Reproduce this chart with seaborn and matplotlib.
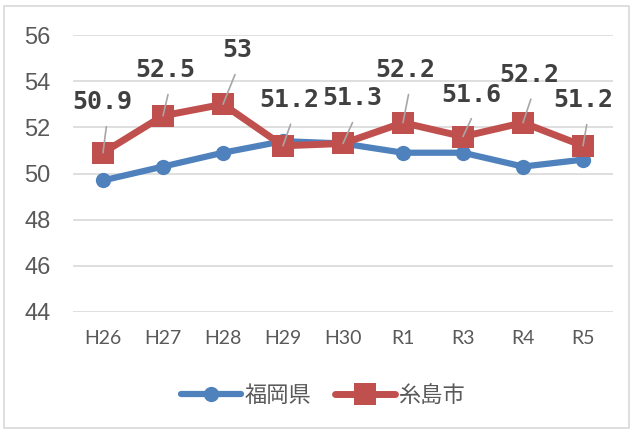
import pandas as pd
import seaborn as sns
import matplotlib
import matplotlib.pyplot as plt
from matplotlib.patches import Rectangle

matplotlib.use('Agg')

# data
years = ['H26', 'H27', 'H28', 'H29', 'H30', 'R1', 'R3', 'R4', 'R5']
fukuoka = [49.7, 50.3, 50.9, 51.4, 51.3, 50.9, 50.9, 50.3, 50.6]
itoshima = [50.9, 52.5, 53, 51.2, 51.3, 52.2, 51.6, 52.2, 51.2]
itoshima_labels = ['50.9', '52.5', '53', '51.2', '51.3', '52.2', '51.6', '52.2', '51.2']

# label offsets in pixels (dx, dy) from each red point
label_offsets = [(-1, 51), (2, 46), (14, 54), (6, 46), (9, 45), (2, 53), (8, 42), (6, 48), (0, 46)]

blue = '#4F81BD'
red = '#C0504D'

sns.set_style('white')
plt.rcParams['font.family'] = ['Noto Sans CJK JP', 'DejaVu Sans']

df = pd.DataFrame({'year': years, '福岡県': fukuoka, '糸島市': itoshima})

fig = plt.figure(figsize=(6.35, 4.3), dpi=100)
ax = fig.add_axes([73 / 635, 1 - 312 / 430, 540 / 635, 277 / 430])

# outer chart border
fig.patches.append(Rectangle((0.006, 0.005), 0.985, 0.98, transform=fig.transFigure,
                             fill=False, edgecolor='#d9d9d9', lw=1.2))

sns.lineplot(data=df, x='year', y='福岡県', ax=ax, color=blue, lw=4.5,
             marker='o', markersize=11, markeredgewidth=0, label='福岡県', sort=False)
sns.lineplot(data=df, x='year', y='糸島市', ax=ax, color=red, lw=5,
             marker='s', markersize=16, markeredgewidth=0, label='糸島市', sort=False)

ax.set_ylim(44, 56)
ax.set_xlim(-0.5, len(years) - 0.5)
ax.set_yticks(range(44, 57, 2))
ax.grid(axis='y', color='#d9d9d9', lw=1.2)
ax.set_axisbelow(True)
for s in ax.spines.values():
    s.set_visible(False)
ax.set_xlabel('')
ax.set_ylabel('')
ax.tick_params(axis='y', labelsize=17, labelcolor='#595959', length=0, pad=16)
ax.tick_params(axis='x', labelsize=14, labelcolor='#595959', length=0, pad=13)
for t in ax.get_yticklabels():
    t.set_fontfamily('Liberation Sans')
for t in ax.get_xticklabels():
    t.set_fontfamily('Lato')

# data labels with leader lines
for i, (lab, (dx, dy)) in enumerate(zip(itoshima_labels, label_offsets)):
    ax.annotate(lab, xy=(i, itoshima[i]), xytext=(dx, dy), textcoords='offset pixels',
                ha='center', va='center', fontsize=18, color='#404040',
                family='DejaVu Sans Mono', fontweight='bold', zorder=5,
                arrowprops=dict(arrowstyle='-', color='#a6a6a6', lw=1.2,
                                shrinkA=7, shrinkB=0, relpos=(0.6, 0)))

ax.get_legend().remove()
handles, labels = ax.get_legend_handles_labels()
fig.legend(handles, labels, loc='center', bbox_to_anchor=(0.509, 0.081), ncol=2,
           frameon=False, fontsize=16, labelcolor='#595959', handlelength=2.7,
           columnspacing=1.1, handletextpad=0.15)

plt.savefig('out.png', dpi=100)
